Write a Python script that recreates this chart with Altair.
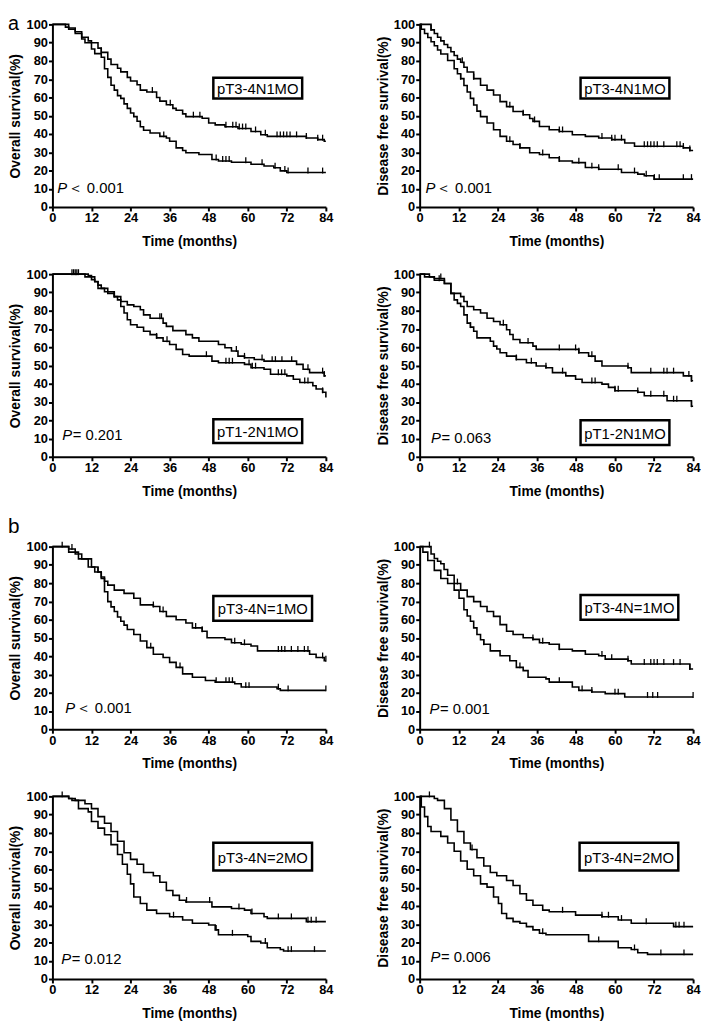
import altair as alt
import pandas as pd

# ---------------- data ----------------
X_TICKS = [0, 12, 24, 36, 48, 60, 72, 84]
Y_TICKS = [0, 10, 20, 30, 40, 50, 60, 70, 80, 90, 100]

# Panel 1: OS pT3-4N1MO
P1_HI_T = [0, 5, 7, 9, 11, 12, 14, 15, 17, 18, 20, 21, 23, 24, 26, 27, 29, 32, 33, 35, 37, 38, 40, 41, 46, 48, 50, 53, 57, 61, 64, 66, 78, 81.5, 83.5, 84]
P1_HI_S = [100, 98, 96, 93, 91, 90, 87, 84.7, 81, 78, 76, 74, 71, 69, 67, 64, 63, 60, 58, 56, 54, 53, 51, 49.5, 48.6, 46, 45, 44, 43, 41.4, 39.6, 38.7, 37.8, 36.9, 36, 36]
P1_HI_C = [15, 30.7, 36.2, 43.3, 45.3, 53.3, 55.4, 56.4, 57.4, 58.4, 59.4, 62.4, 65.4, 69, 70, 71, 72, 73, 75, 78, 81.5, 83]
P1_LO_T = [0, 4, 5, 7, 9, 10, 12, 13, 15, 16, 17, 18, 19, 20, 21, 22, 23, 24, 25, 26, 27, 28, 30, 33, 35, 36, 38, 40, 41, 45, 49, 51, 55, 61, 65, 68, 70, 72, 84]
P1_LO_S = [100, 98.5, 97.3, 95, 92, 90, 86.5, 84, 82, 75.7, 71, 66.7, 64, 61, 59.5, 56.5, 54, 51.5, 49.5, 47, 44, 42, 40.5, 38.7, 37.8, 36, 32.4, 31, 29.7, 28.8, 26, 25.2, 24.5, 23.4, 22.5, 21.5, 19.8, 18.9, 18.9]
P1_LO_C = [34.2, 50.3, 52.3, 53.3, 54.3, 59.4, 64.4, 68.4, 71.4, 72.4, 78.5, 83]

# Panel 2: DFS pT3-4N1MO
P2_HI_T = [0, 3.5, 4.5, 5.5, 6.5, 7.5, 8.6, 9.6, 10.6, 11.6, 12.6, 13.6, 14.6, 16.6, 18.7, 20.7, 22.7, 24.7, 26.7, 28.7, 31.8, 33.8, 34.8, 36.8, 39.8, 42.9, 46.9, 50.9, 55, 59, 63, 66, 81, 83, 84]
P2_HI_S = [100, 97, 95, 93, 91, 89, 87.4, 85, 83, 81, 79.3, 76.5, 73.9, 70.3, 66.7, 64, 61.3, 57.7, 55, 52.3, 50.5, 48.5, 46.9, 44.1, 42.3, 41.4, 39.6, 38.7, 37.8, 36.9, 35.1, 33.3, 32.4, 31, 31]
P2_HI_C = [3.5, 13.1, 16.6, 27.7, 31.8, 35.3, 42.9, 43.9, 56, 59, 60, 62, 69, 70, 71, 72, 73, 75, 79, 80, 81, 83]
P2_LO_T = [0, 0.5, 1.5, 2.5, 3.5, 4.5, 5.5, 6.5, 8.6, 10.6, 11.6, 12.6, 13.6, 14.6, 15.6, 16.6, 17.6, 18.7, 20.7, 22.7, 24.7, 26.7, 28.7, 30.8, 33.8, 36.8, 39.8, 42.9, 46.9, 50.9, 55, 62, 67, 69, 72, 84]
P2_LO_S = [100, 97.3, 95, 92.8, 90.5, 88.3, 86, 83.8, 80.2, 75.7, 73, 70.3, 66.5, 63, 59.5, 55.9, 52.5, 49.5, 46, 42.3, 38.7, 36, 34.2, 32.4, 29.7, 28.8, 27, 25.2, 24.3, 21.6, 20.7, 18.9, 18, 17.1, 15.3, 15.3]
P2_LO_C = [12.6, 27.7, 30.8, 37.8, 42.9, 48.9, 52.9, 55, 61, 66, 69.6, 72.1, 73.6, 81, 83.5]

# Panel 3: OS pT1-2N1MO
P3_HI_T = [0, 11, 12, 13, 14, 15, 17, 19, 21, 23, 25, 27, 28, 30, 34, 35, 37, 41, 43, 45, 51, 53, 55, 57, 59, 62, 65, 75, 77, 79, 83.5, 84]
P3_HI_S = [100, 99.3, 98.5, 96, 94, 92.2, 90.4, 87.7, 85, 83.2, 82.3, 80.5, 77.7, 75.9, 73.2, 71.4, 69.1, 66.9, 65.1, 63.3, 61.5, 59.7, 57.9, 55.1, 54.2, 53.3, 52.4, 50.6, 47.9, 46.1, 44.3, 44.3]
P3_HI_C = [6, 7, 8, 33, 33.5, 56.5, 59, 64.4, 67.5, 68.5, 70.5, 73.5, 78.5, 83, 83.5]
P3_LO_T = [0, 10, 12, 13, 14, 16, 17, 19, 20, 21, 22, 23, 24, 26, 28, 30, 32, 34, 36, 38, 40, 42, 49, 51, 59, 61, 65, 67, 72, 74, 76, 80, 81, 83, 84]
P3_LO_S = [100, 98.5, 97, 95.8, 92.2, 90.4, 89.5, 87.7, 85.9, 82.3, 78.7, 75, 72.3, 70.9, 68.7, 66.9, 65.1, 63.3, 61.5, 58.8, 56, 55.1, 52.4, 51.5, 50.6, 48.8, 47.9, 45.2, 44.3, 42.5, 40.7, 38.9, 37.1, 35.3, 32.5]
P3_LO_C = [6.5, 7.5, 19, 32, 35.2, 47.3, 53.3, 54.3, 55.3, 60.4, 61.4, 62.4, 69.4, 70.4, 71.4, 77.5, 78.5, 83]

# Panel 4: DFS pT1-2N1MO
P4_HI_T = [0, 3, 4.5, 7.6, 9.6, 12.6, 13.6, 14.6, 16.6, 18.7, 20.7, 22.7, 24.7, 26.7, 27.7, 28.7, 30.8, 34.8, 35.8, 48.9, 51.9, 53.9, 56, 64, 65, 81, 83.5, 84]
P4_HI_S = [100, 98.5, 97.6, 94.9, 89.5, 87.7, 85, 82.3, 80.5, 78.7, 75.9, 74.1, 72.3, 69.6, 67, 64.2, 62.4, 60.6, 58.8, 57, 55.1, 52.4, 49.7, 48.8, 46.1, 44.3, 41.6, 41.6]
P4_HI_C = [6.5, 25.7, 33.3, 42.9, 47.9, 48.9, 52.9, 64, 71, 75, 76, 78, 82.7, 83.5]
P4_LO_T = [0, 1.5, 4.5, 7.6, 9.6, 10.6, 11.6, 12.6, 13.6, 14.6, 15.6, 16.6, 17.6, 21.7, 22.7, 23.7, 24.7, 26.7, 29.7, 32.8, 35.8, 38.8, 40.8, 44.9, 47.9, 49.9, 56, 58, 60, 67, 69, 76, 83.5, 84]
P4_LO_S = [100, 98.5, 96.7, 94.9, 89.5, 85.9, 84, 82.3, 77.7, 73.2, 71, 68.7, 65.1, 63.3, 60.6, 59, 57, 55.1, 53.3, 51.5, 49.7, 48.8, 46.1, 44.3, 42.5, 40.7, 39.8, 38, 36.2, 35.3, 33.4, 30.7, 27.7, 27.7]
P4_LO_C = [6, 15.6, 29.7, 34.3, 38.8, 43.9, 52.9, 53.9, 60, 61, 67, 71, 75, 78, 79, 83.5]

# Panel 5: OS pT3-4N=1MO
P5_HI_T = [0, 5, 7, 9, 12, 14, 15, 16, 17, 19, 22, 25, 27, 31, 33, 35, 38, 41, 43, 46, 47.5, 53, 55, 58, 61, 63, 79, 81, 83.5, 84]
P5_HI_S = [100, 98.7, 96, 93.3, 88.8, 86.1, 83.4, 81, 78.9, 76.2, 74.4, 71.7, 68.1, 67.2, 64.5, 61.8, 60, 58.2, 55.5, 53.7, 50.1, 49.2, 47.4, 46.5, 45.6, 42.9, 41.1, 39.3, 37.5, 37.5]
P5_HI_C = [3, 6, 14, 31, 34, 44, 46, 56, 59, 69.4, 70.4, 71.4, 73.4, 75.4, 77.4, 78.5, 83, 84]
P5_LO_T = [0, 5, 8, 11, 13, 15, 16, 17, 18, 19, 20, 21, 22, 23, 25, 27, 29, 31, 34, 36, 38, 40, 43, 47, 50, 56, 58, 69, 70, 84]
P5_LO_S = [100, 97, 93.3, 88.8, 86.1, 82.5, 75.3, 69.9, 67, 64.5, 61.5, 59.1, 57, 54.6, 51.9, 48.3, 44.7, 41.1, 39.3, 36.6, 33.9, 30.3, 28.5, 26.7, 25.8, 24.9, 23.1, 22.2, 21.3, 21.3]
P5_LO_C = [30.2, 39.2, 50.3, 53.3, 54.3, 55.3, 59.4, 60.4, 69.4, 72.4, 84]

# Panel 6: DFS pT3-4N=1MO
P6_HI_T = [0, 3.5, 4.5, 5.5, 6.5, 7.5, 8.6, 10.6, 12.6, 14.6, 16.6, 18.7, 20.7, 22.7, 24.7, 26.7, 28.7, 31.8, 34.8, 36.8, 39.8, 42.9, 46.9, 50.9, 55, 57, 64, 65, 83, 84]
P6_HI_S = [100, 96, 93.5, 92, 90.6, 87.5, 84.3, 79.8, 76.2, 72.6, 69.9, 67.2, 64.5, 61.8, 57.3, 53.7, 51.9, 50.1, 49.2, 47.4, 46.5, 43.8, 42.9, 41.1, 40.2, 38.4, 37.5, 35.7, 33, 33]
P6_HI_C = [3, 11.6, 34.8, 37.8, 42.9, 56, 59, 64, 69, 71, 72, 73, 75, 78, 80, 83]
P6_LO_T = [0, 1, 2.5, 4.5, 6.5, 8.6, 10.6, 12.1, 13.6, 14.6, 15.6, 16.6, 17.6, 18.7, 19.7, 21.7, 24.7, 27.7, 29.7, 31.8, 33.3, 38.8, 39.8, 46.9, 48.9, 52.9, 57, 63, 84]
P6_LO_S = [100, 97, 92.4, 87, 82.5, 79.8, 76.2, 71.7, 65.4, 62, 59.1, 55.5, 51.9, 49, 46.5, 42.9, 40.2, 37.5, 33.9, 32.1, 28.5, 27.6, 25.8, 23.1, 21.3, 20.4, 19.5, 17.7, 17.7]
P6_LO_C = [19.7, 30.8, 42.9, 49.9, 52.9, 60, 61, 70, 71.6, 73.1, 84]

# Panel 7: OS pT3-4N=2MO
P7_HI_T = [0, 5, 7, 10, 12, 14, 16, 18, 20, 22, 24, 26, 28, 31, 33, 35, 37, 39, 41, 49, 55, 59, 61, 65, 66, 78, 84]
P7_HI_S = [100, 98.8, 97.8, 96, 93.3, 88.9, 85.3, 80.8, 75.4, 69.1, 65.5, 62.8, 58.3, 56.5, 53, 48.5, 45.8, 43.1, 42.2, 39.5, 38.6, 37.7, 35.9, 34.1, 33.2, 31.4, 31.4]
P7_HI_C = [3, 41.2, 48.3, 57.3, 61.3, 69.4, 73.4, 78.5, 79.5, 81]
P7_LO_T = [0, 5, 6, 8, 11, 12, 14, 16, 18, 20, 21.5, 23, 24, 25, 27, 29, 32, 36, 40, 43, 48, 50, 51, 60, 61, 64, 66, 70, 71, 84]
P7_LO_S = [100, 98.8, 97.8, 93.3, 91.5, 86.2, 82.6, 79, 73.6, 68.2, 62.8, 57.4, 52.1, 44.9, 41.3, 37.7, 35.9, 34.1, 32.3, 30.5, 29.6, 26.9, 24.2, 23.3, 20.6, 19.7, 17.1, 16.2, 15.3, 15.3]
P7_LO_C = [37.2, 50.3, 55.3, 65.4, 72.4, 73.4, 80.5]

# Panel 8: DFS pT3-4N=2MO
P8_HI_T = [0, 4.5, 5.5, 7.6, 9.6, 11.6, 13.6, 15.6, 17.6, 19.7, 21.7, 23.7, 26.7, 28.7, 30.8, 32.8, 34.8, 37.8, 39.8, 47.9, 56, 61, 65, 78, 84]
P8_HI_S = [100, 98.8, 97.8, 93.3, 87.1, 80.8, 74.5, 70.9, 66.4, 61.9, 58.3, 56.5, 53.9, 51.2, 46.7, 43.1, 40.4, 37.7, 36.8, 35, 34.1, 32.3, 30.5, 28.7, 28.7]
P8_HI_C = [3, 16.1, 43.9, 56, 58, 62, 69.6, 78.7, 79.7, 81.2]
P8_LO_T = [0, 0.5, 1.5, 2.5, 3.5, 6.5, 8.6, 10.6, 12.6, 14.6, 16.6, 18.7, 20.7, 22.7, 24.2, 25.2, 26.7, 28.7, 30.8, 32.8, 34.8, 36.8, 38.8, 51.9, 61, 65, 67, 70, 84]
P8_LO_S = [100, 94.2, 88.9, 83.5, 80.8, 78.1, 74.5, 70, 64.6, 60.1, 56.5, 52.1, 50.3, 44.9, 41.3, 35.9, 33.2, 31.4, 30.5, 28.7, 26.9, 25.1, 24.2, 20.6, 17.1, 16.2, 14.4, 13.5, 13.5]
P8_LO_C = [37.8, 55, 66, 74.1, 81.2]

OS_TITLE = "Overall survival(%)"
DFS_TITLE = "Disease free survival(%)"

PANELS = [
    dict(ytitle=OS_TITLE, tag="pT3-4N1MO", p="＜ 0.001",
         hi=(P1_HI_T, P1_HI_S, P1_HI_C), lo=(P1_LO_T, P1_LO_S, P1_LO_C)),
    dict(ytitle=DFS_TITLE, tag="pT3-4N1MO", p="＜ 0.001",
         hi=(P2_HI_T, P2_HI_S, P2_HI_C), lo=(P2_LO_T, P2_LO_S, P2_LO_C)),
    dict(ytitle=OS_TITLE, tag="pT1-2N1MO", p="= 0.201",
         hi=(P3_HI_T, P3_HI_S, P3_HI_C), lo=(P3_LO_T, P3_LO_S, P3_LO_C)),
    dict(ytitle=DFS_TITLE, tag="pT1-2N1MO", p="= 0.063",
         hi=(P4_HI_T, P4_HI_S, P4_HI_C), lo=(P4_LO_T, P4_LO_S, P4_LO_C)),
    dict(ytitle=OS_TITLE, tag="pT3-4N=1MO", p="＜ 0.001",
         hi=(P5_HI_T, P5_HI_S, P5_HI_C), lo=(P5_LO_T, P5_LO_S, P5_LO_C)),
    dict(ytitle=DFS_TITLE, tag="pT3-4N=1MO", p="= 0.001",
         hi=(P6_HI_T, P6_HI_S, P6_HI_C), lo=(P6_LO_T, P6_LO_S, P6_LO_C)),
    dict(ytitle=OS_TITLE, tag="pT3-4N=2MO", p="= 0.012",
         hi=(P7_HI_T, P7_HI_S, P7_HI_C), lo=(P7_LO_T, P7_LO_S, P7_LO_C)),
    dict(ytitle=DFS_TITLE, tag="pT3-4N=2MO", p="= 0.006",
         hi=(P8_HI_T, P8_HI_S, P8_HI_C), lo=(P8_LO_T, P8_LO_S, P8_LO_C)),
]

# ---------------- layout / style (pixels inside each plot) ----------------
W, H = 277, 185
LAYOUT = [
    dict(box=(163, 54, 253, 75), p=(5, 171), lab="a"),
    dict(box=(163, 54, 253, 75), p=(6, 171), lab=None),
    dict(box=(163, 147, 253, 171), p=(10, 168), lab=None),
    dict(box=(163, 148, 253, 173), p=(11.6, 171), lab=None),
    dict(box=(163, 50, 263, 75), p=(13, 169), lab="b"),
    dict(box=(163, 49, 262, 74), p=(10, 170), lab=None),
    dict(box=(163, 47, 263, 75), p=(9, 170), lab=None),
    dict(box=(162, 47, 262, 75), p=(11, 168), lab=None),
]
FONT = "Liberation Sans, Arial, Helvetica, sans-serif"
ONE = pd.DataFrame({"k": [0]})


def step_value(ts, ss, c):
    idx = max(i for i, t in enumerate(ts) if t <= c)
    return ss[idx]


def panel(i):
    cfg, lay = PANELS[i], LAYOUT[i]
    rows, cens = [], []
    for grp in ("hi", "lo"):
        ts, ss, cs = cfg[grp]
        rows += [{"grp": grp, "t": t, "s": s} for t, s in zip(ts, ss)]
        cens += [{"grp": grp, "t": c, "s": step_value(ts, ss, c)} for c in cs]
    curve_df = pd.DataFrame(rows)
    cens_df = pd.DataFrame(cens)

    x = alt.X("t:Q", scale=alt.Scale(domain=[0, 84], nice=False),
              axis=alt.Axis(values=X_TICKS, tickCount=len(X_TICKS) + 2,
                            title="Time (months)",
                            labelOverlap=False, labelFlush=False))
    y = alt.Y("s:Q", scale=alt.Scale(domain=[0, 100], nice=False),
              axis=alt.Axis(values=Y_TICKS, tickCount=len(Y_TICKS) + 2,
                            title=cfg["ytitle"], titleX=-30,
                            labelOverlap=False, labelFlush=False))

    lines = alt.Chart(curve_df).mark_line(
        interpolate="step-after", color="black", strokeWidth=1.6
    ).encode(x=x, y=y, detail="grp:N")

    ticks = alt.Chart(cens_df).mark_point(
        shape="M0,-1L0,0.2", size=100, filled=False, color="black",
        strokeWidth=1.3, opacity=1
    ).encode(x="t:Q", y="s:Q")

    x1, y1, x2, y2 = lay["box"]
    box = alt.Chart(ONE).mark_rect(
        fill="white", stroke="black", strokeWidth=2.5
    ).encode(x=alt.value(x1), x2=alt.value(x2), y=alt.value(y1), y2=alt.value(y2))
    box_txt = alt.Chart(ONE).mark_text(
        align="center", baseline="middle", fontSize=15, font=FONT, color="black"
    ).encode(x=alt.value((x1 + x2) / 2), y=alt.value((y1 + y2) / 2 + 1),
             text=alt.value(cfg["tag"]))

    px, py = lay["p"]
    p_it = alt.Chart(ONE).mark_text(
        align="left", baseline="alphabetic", fontSize=15, font=FONT,
        fontStyle="italic", color="black"
    ).encode(x=alt.value(px), y=alt.value(py), text=alt.value("P"))
    p_rest = alt.Chart(ONE).mark_text(
        align="left", baseline="alphabetic", fontSize=15, font=FONT, color="black"
    ).encode(x=alt.value(px + 10.5), y=alt.value(py), text=alt.value(cfg["p"]))

    layers = [lines, ticks, box, box_txt, p_it, p_rest]
    if lay["lab"] == "a":
        layers.append(alt.Chart(ONE).mark_text(
            align="left", baseline="alphabetic", fontSize=20, font=FONT, color="black"
        ).encode(x=alt.value(-45), y=alt.value(6), text=alt.value("a")))
    elif lay["lab"] == "b":
        layers.append(alt.Chart(ONE).mark_text(
            align="left", baseline="alphabetic", fontSize=21, font=FONT, color="black"
        ).encode(x=alt.value(-45), y=alt.value(-14), text=alt.value("b")))
    return alt.layer(*layers).properties(width=W, height=H)


rows = [alt.hconcat(panel(2 * r), panel(2 * r + 1), spacing=43) for r in range(4)]

chart = alt.vconcat(*rows, spacing=18).properties(
    padding={"left": 0, "top": 0, "right": 0, "bottom": 0}
).configure(font=FONT).configure_view(stroke=None).configure_axis(
    domainColor="black", domainWidth=2, tickColor="black", tickWidth=2, tickSize=4,
    labelFont=FONT, labelFontSize=13, labelFontWeight="bold", labelColor="black",
    labelPadding=1, labelFlush=False, labelOverlap=False, titleFont=FONT,
    titleFontSize=14, titleFontWeight="bold", titleColor="black", grid=False
).configure_axisX(titlePadding=10).configure_axisY(titlePadding=2)

chart.save("out.html", embed_options={"renderer": "svg", "actions": False})
